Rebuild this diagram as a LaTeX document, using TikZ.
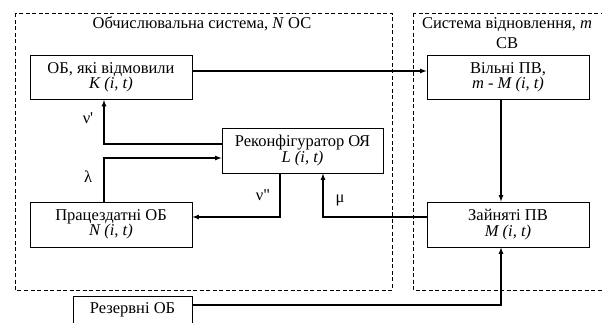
\documentclass[tikz,border=0pt]{standalone}
\usepackage{fontspec}
\setmainfont{Liberation Serif}
\usetikzlibrary{positioning}
\tikzset{>=latex}

\begin{document}
\begin{tikzpicture}[x=1pt, y=-1pt, font=\fontsize{16.5}{15.5}\selectfont,
    block/.style={draw, line width=0.9pt, minimum width=162pt, minimum height=44pt, align=center, inner sep=0pt},
    link/.style={line width=1.2pt, ->},
    frame/.style={line width=0.9pt, dash pattern=on 4pt off 2.5pt}]
    \useasboundingbox (0, 0) rectangle (602, 322);
    % the two subsystems
    \draw[frame](15, 13) rectangle (392, 290);
    \draw[frame](413, 13) rectangle (612, 290);
    \node (cs) at (202, 24) {Обчислювальна система, \textit{N} ОС};
    \node[align=center] (rs) at (507, 33) {Система відновлення, \textit{m}\\[4pt]СВ};
    % blocks
    \node[block] (fail) at (111, 77.5) {ОБ, які відмовили\\\textit{K (i, t)}};
    \node[block] (free) at (508, 77.5) {Вільні ПВ,\\\textit{m - M (i, t)}};
    \node[block, minimum width=161pt, minimum height=45pt] (reconf) at (302.5, 150.5) {Реконфігуратор ОЯ\\\textit{L (i, t)}};
    \node[block, minimum height=45pt] (work) at (111, 224.5) {Працездатні ОБ\\\textit{N (i, t)}};
    \node[block, minimum height=45pt] (busy) at (508, 224.5) {Зайняті ПВ\\\textit{M (i, t)}};
    \node[block, minimum width=119pt, minimum height=28pt] (spare) at (132.5, 310) {Резервні ОБ};
    % flows
    \draw[link]([yshift=6.5pt]fail.east)--([yshift=6.5pt]free.west);
    \draw[link]([yshift=6.5pt]reconf.west)-|([xshift=-7pt]fail.south);
    \draw[link]([xshift=-7pt]work.north)|-([yshift=-7.5pt]reconf.west);
    \draw[link]([xshift=-22.5pt]reconf.south)|-([yshift=7.5pt]work.east);
    \draw[link]([yshift=7.5pt]busy.west)-|([xshift=20.5pt]reconf.south);
    \draw[link]([xshift=-7pt]free.south)--([xshift=-7pt]busy.north);
    \draw[link]([yshift=5pt]spare.east)-|([xshift=-7pt]busy.south);
    % rates
    \node (nu1) at (88, 118) {ν\textquotesingle};
    \node (lam) at (88, 177) {λ};
    \node (nu2) at (263, 195) {ν\textquotedbl};
    \node (mu) at (340, 200) {μ};
\end{tikzpicture}
\end{document}
